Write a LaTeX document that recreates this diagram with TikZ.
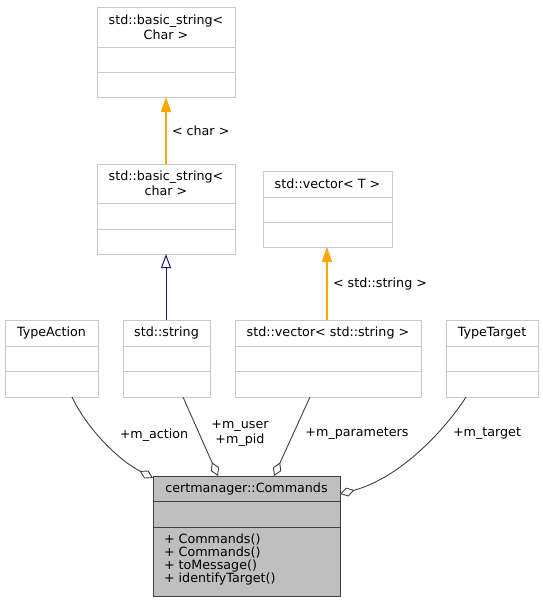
\documentclass[tikz,border=0pt]{standalone}
\usepackage{fontspec}
\setmainfont{DejaVu Sans}
\usetikzlibrary{arrows.meta}
\definecolor{boxgray}{HTML}{BFBFBF}
\definecolor{lightline}{HTML}{C8C8C8}
\definecolor{edgegray}{HTML}{404040}
\definecolor{inhblue}{HTML}{191970}
\definecolor{tplorange}{HTML}{FFA500}
% horizontal compartment line inside a class box
\newcommand\compart[3]{\draw[#1] ([yshift=-#3pt]#2.north west) -- ([yshift=-#3pt]#2.north east);}
\begin{document}
\begin{tikzpicture}[x=1pt,y=-1pt,
  every node/.style={font=\fontsize{12.7}{15}\selectfont, inner sep=0pt, outer sep=0pt},
  cls/.style={draw=lightline, line width=1pt, fill=white, anchor=north west},
  maincls/.style={draw=edgegray, line width=1pt, fill=boxgray, anchor=north west},
  sep/.style={draw=lightline, line width=1pt},
  mainsep/.style={draw=edgegray, line width=1pt},
  comp/.style={draw=edgegray, line width=0.9pt, -{Diamond[open, length=15pt, width=9pt]}},
  inh/.style={draw=inhblue, line width=1pt, -{Triangle[open, length=14pt, width=10pt]}},
  tpl/.style={draw=tplorange, line width=1.4pt, -{Triangle[length=15pt, width=10pt]}},
  lbl/.style={align=center}
]
\useasboundingbox (0,0) rectangle (543,603);

% template std::basic_string< Char >
\node[cls, minimum width=138pt, minimum height=90pt] (bsChar) at (97,7) {};
\compart{sep}{bsChar}{40}\compart{sep}{bsChar}{65}
\node[lbl] at ([yshift=-20pt]bsChar.north) {std::basic\_string<\\Char >};

% std::basic_string< char >
\node[cls, minimum width=138pt, minimum height=90pt] (bschar) at (97,164) {};
\compart{sep}{bschar}{39}\compart{sep}{bschar}{65}
\node[lbl] at ([yshift=-19pt]bschar.north) {std::basic\_string<\\char >};

% template std::vector< T >
\node[cls, minimum width=129pt, minimum height=76pt] (vecT) at (263,171) {};
\compart{sep}{vecT}{26}\compart{sep}{vecT}{51}
\node[lbl] at ([yshift=-12.5pt]vecT.north) {std::vector< T >};

% member types
\node[cls, minimum width=93pt, minimum height=77pt] (TypeAction) at (5,320) {};
\compart{sep}{TypeAction}{26}\compart{sep}{TypeAction}{51}
\node[lbl] at ([yshift=-13pt]TypeAction.north) {TypeAction};

\node[cls, minimum width=87pt, minimum height=77pt] (stdstring) at (123,320) {};
\compart{sep}{stdstring}{26}\compart{sep}{stdstring}{51}
\node[lbl] at ([yshift=-13pt]stdstring.north) {std::string};

\node[cls, minimum width=186pt, minimum height=77pt] (vecstr) at (235,320) {};
\compart{sep}{vecstr}{26}\compart{sep}{vecstr}{51}
\node[lbl] at ([yshift=-13pt]vecstr.north) {std::vector< std::string >};

\node[cls, minimum width=92pt, minimum height=77pt] (TypeTarget) at (446,320) {};
\compart{sep}{TypeTarget}{26}\compart{sep}{TypeTarget}{51}
\node[lbl] at ([yshift=-13pt]TypeTarget.north) {TypeTarget};

% the documented class
\node[maincls, minimum width=187pt, minimum height=120pt] (Commands) at (153,476) {};
\compart{mainsep}{Commands}{25}\compart{mainsep}{Commands}{51}
\node[lbl] at ([yshift=-12.5pt]Commands.north) {certmanager::Commands};
\node[anchor=west, align=left, font=\fontsize{12.7}{13}\selectfont] (methods) at (164,559.5)
  {+ Commands()\\+ Commands()\\+ toMessage()\\+ identifyTarget()};

% template instantiation and inheritance
\draw[tpl] (bschar.north) -- node[anchor=west, xshift=6pt] {< char >} (bsChar.south);
\draw[inh] ([xshift=-0.5pt]stdstring.north) -- (bschar.south);
\draw[tpl] ([xshift=-1pt]vecstr.north) -- node[anchor=west, xshift=6pt] {< std::string >} ([xshift=-0.5pt]vecT.south);

% composition (members)
\draw[comp] ([xshift=20.5pt]TypeAction.south) .. controls (85,425) and (115,458) .. ([yshift=-2pt]Commands.north west);
\node[lbl] (lact) at (154,435) {+m\_action};

\draw[comp] ([xshift=16.5pt]stdstring.south) -- ([xshift=-28.5pt]Commands.north);
\node[lbl] (luser) at (240,434) {+m\_user\\+m\_pid};

\draw[comp] ([xshift=-18pt]vecstr.south) -- ([xshift=27.5pt]Commands.north);
\node[lbl] (lpar) at (357,434) {+m\_parameters};

\draw[comp] ([xshift=-26pt]TypeTarget.south) .. controls (445,430) and (400,478) .. ([yshift=-18pt]Commands.north east);
\node[lbl] (ltgt) at (487,434) {+m\_target};
\end{tikzpicture}
\end{document}
